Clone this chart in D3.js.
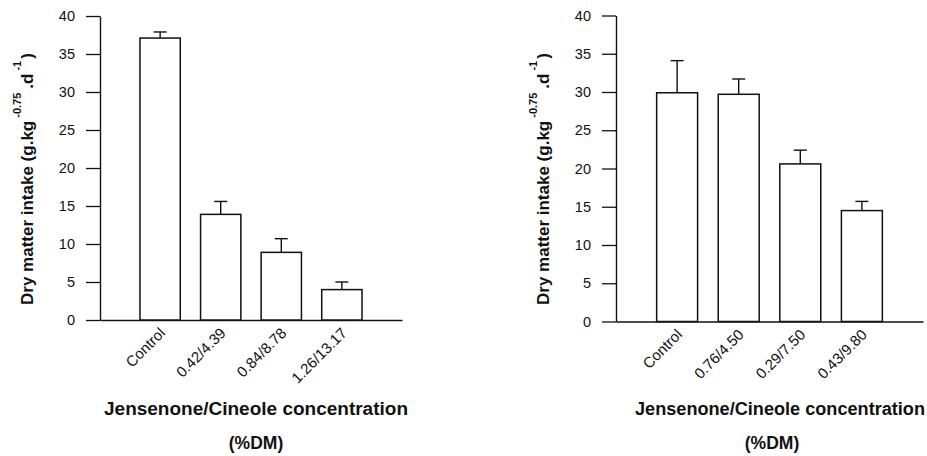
<!DOCTYPE html>
<html>
<head>
<meta charset="utf-8">
<script src="https://cdn.jsdelivr.net/npm/d3@7"></script>
<style>
  body { margin: 0; background: #fff; }
  svg { display: block; }
  text { font-family: Arial, "Liberation Sans", Helvetica, sans-serif; fill: #111; }
</style>
</head>
<body>
<div id="vis"></div>
<script>
// values
const leftCats = ["Control", "0.42/4.39", "0.84/8.78", "1.26/13.17"];
const leftMeans = [37.1, 13.9, 8.9, 4.0];
const leftErr = [0.8, 1.7, 1.8, 1.0];

const rightCats = ["Control", "0.76/4.50", "0.29/7.50", "0.43/9.80"];
const rightMeans = [29.9, 29.7, 20.6, 14.5];
const rightErr = [4.2, 2.0, 1.8, 1.2];

const yTicks = [0, 5, 10, 15, 20, 25, 30, 35, 40];

const WIDTH = 927;
const HEIGHT = 456;

const svg = d3.select("#vis")
  .append("svg")
    .attr("width", WIDTH)
    .attr("height", HEIGHT);

function drawPanel(cats, means, errs, opt) {
  const g = svg.append("g");

  const x = d3.scaleBand()
    .domain(cats)
    .range([opt.x0, opt.x1])
    .paddingInner(0.335)
    .paddingOuter(0.66);

  const y = d3.scaleLinear()
    .domain([0, 40])
    .range([opt.yBottom, opt.yTop]);

  // y axis
  const yAxis = g.append("g")
    .attr("transform", "translate(" + opt.x0 + ",0)")
    .call(d3.axisLeft(y).tickValues(yTicks).tickSize(14).tickPadding(11).tickSizeOuter(0));
  yAxis.select(".domain").attr("stroke", "#111").attr("stroke-width", 1.4);
  yAxis.selectAll(".tick line").attr("stroke", "#111").attr("stroke-width", 1.3);
  yAxis.selectAll(".tick text")
    .style("font-size", "14.5px")
    .style("font-family", "Arial, 'Liberation Sans', sans-serif")
    .attr("fill", "#111");

  // x axis (line only, labels rotated)
  const xAxis = g.append("g")
    .attr("transform", "translate(0," + opt.yBottom + ")")
    .call(d3.axisBottom(x).tickSize(0).tickSizeOuter(0).tickPadding(0));
  xAxis.select(".domain").attr("stroke", "#111").attr("stroke-width", 1.4);
  xAxis.selectAll(".tick text")
    .style("font-size", "15px")
    .style("font-family", "Arial, 'Liberation Sans', sans-serif")
    .attr("fill", "#111")
    .attr("text-anchor", "end")
    .attr("dy", 0)
    .attr("transform", "translate(6,14) rotate(-45)");

  // bars
  g.selectAll("rect.bar")
    .data(cats)
    .enter()
    .append("rect")
      .attr("class", "bar")
      .attr("x", (d) => x(d))
      .attr("y", (d, i) => y(means[i]))
      .attr("width", x.bandwidth())
      .attr("height", (d, i) => y(0) - y(means[i]))
      .attr("fill", "#fff")
      .attr("stroke", "#111")
      .attr("stroke-width", 1.5);

  // error bars
  g.selectAll("line.err")
    .data(cats)
    .enter()
    .append("line")
      .attr("class", "err")
      .attr("x1", (d) => x(d) + x.bandwidth() / 2)
      .attr("x2", (d) => x(d) + x.bandwidth() / 2)
      .attr("y1", (d, i) => y(means[i]))
      .attr("y2", (d, i) => y(means[i] + errs[i]))
      .attr("stroke", "#111")
      .attr("stroke-width", 1.4);

  g.selectAll("line.cap")
    .data(cats)
    .enter()
    .append("line")
      .attr("class", "cap")
      .attr("x1", (d) => x(d) + x.bandwidth() / 2 - 6.5)
      .attr("x2", (d) => x(d) + x.bandwidth() / 2 + 6.5)
      .attr("y1", (d, i) => y(means[i] + errs[i]))
      .attr("y2", (d, i) => y(means[i] + errs[i]))
      .attr("stroke", "#111")
      .attr("stroke-width", 1.4);

  // y axis title
  const yt = g.append("text")
    .attr("transform", "translate(" + (opt.x0 - 67) + "," + 305 + ") rotate(-90)")
    .attr("text-anchor", "start")
    .style("font-size", "17px")
    .style("font-weight", "bold");
  yt.append("tspan").text("Dry matter intake (g.kg");
  yt.append("tspan").attr("dy", -12).attr("dx", 3).style("font-size", "11px").text("-0.75");
  yt.append("tspan").attr("dy", 12).attr("dx", 4).text(".d");
  yt.append("tspan").attr("dy", -12).attr("dx", 3).style("font-size", "11px").text("-1");
  yt.append("tspan").attr("dy", 12).attr("dx", 2).text(")");

  // x axis title
  g.append("text")
    .attr("x", opt.titleX)
    .attr("y", 415)
    .attr("text-anchor", "middle")
    .attr("textLength", opt.titleLen)
    .attr("lengthAdjust", "spacingAndGlyphs")
    .style("font-size", "17.5px")
    .style("font-weight", "bold")
    .text("Jensenone/Cineole concentration");
  g.append("text")
    .attr("x", opt.dmX)
    .attr("y", 449)
    .attr("text-anchor", "middle")
    .style("font-size", "17.5px")
    .style("font-weight", "bold")
    .text("(%DM)");
}

drawPanel(leftCats, leftMeans, leftErr,
  {x0: 100, x1: 402, yBottom: 320, yTop: 16, titleX: 256, titleLen: 304, dmX: 256});
drawPanel(rightCats, rightMeans, rightErr,
  {x0: 616, x1: 923, yBottom: 321.5, yTop: 15.5, titleX: 780, titleLen: 290, dmX: 772});
</script>
</body>
</html>
